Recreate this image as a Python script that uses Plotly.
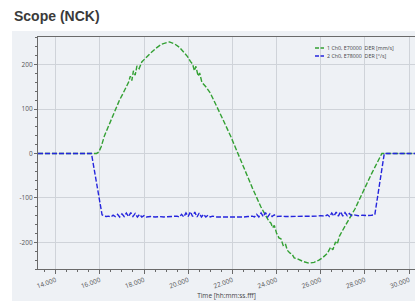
import plotly.graph_objects as go

# ---- data ----
green_t = [13.2, 15.85, 15.95, 16.06, 16.21, 16.44, 16.66, 16.89, 17.05, 17.19, 17.3, 17.38, 17.45, 17.52,
           17.6, 17.68, 17.78, 17.9, 18.02, 18.15, 18.3, 18.55, 18.8, 19.15, 19.4, 19.6, 19.8, 19.97, 20.1,
           20.2, 20.28, 20.35, 20.45, 20.52, 20.62, 20.8, 21.0, 21.18, 21.55, 21.93, 22.2, 22.53, 22.91,
           23.29, 23.5, 23.66, 23.75, 23.82, 23.9, 24.0, 24.11, 24.2, 24.3, 24.4, 24.49, 24.6, 24.7, 24.8,
           24.94, 25.2, 25.47, 25.7, 25.92, 26.1, 26.3, 26.45, 26.55, 26.67, 26.75, 26.85, 26.97, 27.15,
           27.35, 27.55, 27.72, 27.9, 28.1, 28.3, 28.47, 28.62, 28.77, 30.3]
green_v = [0, 0, 3, 15, 40, 68, 94, 120, 135, 150, 160, 174, 164, 186,
           176, 197, 191, 206, 212, 220, 226, 237, 246, 251, 246, 239, 228, 218, 207,
           201, 186, 196, 174, 181, 160, 150, 136, 118, 79, 38, 6, -37, -78,
           -120, -140, -153, -157, -167, -162, -179, -190, -192, -207, -203, -218, -224, -226, -235,
           -237, -243, -247, -245, -240, -234, -225, -211, -217, -199, -204, -186, -175, -158,
           -142, -125, -108, -88, -67, -46, -29, -12, 0, 0]

blue_t = [13.2, 15.62, 16.1, 16.2, 16.3, 16.4, 16.5, 16.6, 16.7, 16.8, 16.9, 17.0, 17.1, 17.2, 17.3, 17.4,
          17.5, 17.6, 17.7, 17.8, 17.9, 18.0, 18.1, 18.3, 18.5, 18.7, 18.9, 19.1, 19.3, 19.5, 19.6, 19.7,
          19.8, 19.9, 20.0, 20.1, 20.2, 20.3, 20.4, 20.5, 20.6, 20.7, 20.8, 20.9, 21.0, 21.1, 21.3, 21.5,
          21.7, 21.9, 22.1, 22.3, 22.5, 22.7, 22.9, 23.0, 23.1, 23.2, 23.3, 23.4, 23.5, 23.6, 23.7, 23.8,
          23.9, 24.0, 24.2, 24.4, 24.6, 24.8, 25.0, 25.2, 25.4, 25.6, 25.8, 26.0, 26.2, 26.3, 26.4, 26.5,
          26.6, 26.7, 26.8, 26.9, 27.0, 27.1, 27.2, 27.3, 27.4, 27.5, 27.7, 27.9, 28.1, 28.3, 28.45,
          28.88, 30.3]
blue_v = [0, 0, -138, -141, -142, -141, -143, -139, -142, -137, -143, -136, -142, -134, -142, -133,
          -142, -135, -143, -137, -143, -140, -143, -142, -143, -142, -143, -142, -142, -141, -143, -137,
          -143, -134, -142, -131, -142, -132, -143, -134, -143, -137, -143, -139, -143, -141, -143, -143,
          -144, -143, -144, -143, -143, -142, -141, -143, -137, -143, -134, -142, -133, -143, -136, -142,
          -138, -142, -141, -142, -142, -141, -142, -141, -142, -141, -141, -140, -141, -138, -142, -134,
          -141, -132, -141, -131, -141, -133, -140, -135, -140, -138, -140, -139, -140, -139, -138,
          0, 0]

x_ticks = [14, 16, 18, 20, 22, 24, 26, 28, 30]
y_ticks = [-200, -100, 0, 100, 200]
y_ticktext = ["-200", "-100", "0", "100", "200"]
name1 = "1 Ch0, E70000  DER [mm/s]"
name2 = "2 Ch0, E78000  DER [°/s]"

GREEN = "#33a033"
BLUE = "#2525dd"
BG = "#eef1f5"
W, H = 415, 301
ML, MR, MT, MB = 38, 0, 37, 32
pw, ph = W - ML - MR, H - MT - MB


def px2paper_x(px):
    return (px - ML) / pw


def px2paper_y(py):
    return 1 - (py - MT) / ph


fig = go.Figure()
fig.add_trace(go.Scatter(x=green_t, y=green_v, mode="lines", name=name1,
                         line=dict(color=GREEN, width=1.4, dash="5px,2px")))
fig.add_trace(go.Scatter(x=blue_t, y=blue_v, mode="lines", name=name2,
                         line=dict(color=BLUE, width=1.4, dash="5px,2px")))

axis_font = dict(family="Open Sans, Liberation Sans, sans-serif", size=6.5, color="#555")

fig.update_layout(
    width=W, height=H,
    margin=dict(l=ML, r=MR, t=MT, b=MB, pad=0),
    paper_bgcolor=BG, plot_bgcolor=BG,
    showlegend=False,
    xaxis=dict(range=[13.2, 30.27], tickvals=x_ticks, tickformat=".3f", tickangle=-20,
               showgrid=True, gridcolor="#cfd3d9", gridwidth=1,
               showline=True, linecolor="#6a6a6a", linewidth=1, mirror=True,
               ticks="outside", ticklen=4, tickcolor="#6a6a6a",
               minor=dict(dtick=0.5, ticks="outside", ticklen=2, tickcolor="#6a6a6a", showgrid=False),
               tickfont=axis_font, zeroline=False, automargin=False,
               title=dict(text="Time [hh:mm:ss.fff]", font=dict(family="Open Sans, sans-serif", size=6.5, color="#444"),
                          standoff=4)),
    yaxis=dict(range=[-260, 262], tickvals=y_ticks, ticktext=y_ticktext,
               showgrid=True, gridcolor="#cfd3d9", gridwidth=1,
               showline=True, linecolor="#6a6a6a", linewidth=1,
               ticks="outside", ticklen=3, tickcolor="#6a6a6a",
               minor=dict(dtick=20, ticks="outside", ticklen=2, tickcolor="#6a6a6a", showgrid=False),
               tickfont=axis_font, zeroline=False, automargin=False),
)

# white header strip above the grey chart panel, and left white margin
fig.add_shape(type="rect", xref="paper", yref="paper", layer="below",
              x0=px2paper_x(0), x1=px2paper_x(W), y0=px2paper_y(31), y1=px2paper_y(0),
              fillcolor="white", line=dict(width=0))
fig.add_shape(type="rect", xref="paper", yref="paper", layer="below",
              x0=px2paper_x(0), x1=px2paper_x(12), y0=px2paper_y(H), y1=px2paper_y(0),
              fillcolor="white", line=dict(width=0))

fig.add_annotation(text="<b>Scope (NCK)</b>", xref="paper", yref="paper",
                   x=px2paper_x(12), y=px2paper_y(16), xanchor="left", yanchor="middle",
                   showarrow=False, font=dict(family="Liberation Sans, Arial, sans-serif", size=14, color="#3a3a3a"))

# custom legend
for i, (nm, col) in enumerate([(name1, GREEN), (name2, BLUE)]):
    yy = 48 + 8 * i
    fig.add_shape(type="line", xref="paper", yref="paper",
                  x0=px2paper_x(315), x1=px2paper_x(324), y0=px2paper_y(yy), y1=px2paper_y(yy),
                  line=dict(color=col, width=1.4, dash="4px,1.5px"))
    fig.add_annotation(text=nm, xref="paper", yref="paper",
                       x=px2paper_x(325), y=px2paper_y(yy), xanchor="left", yanchor="middle",
                       showarrow=False, font=dict(family="Open Sans, sans-serif", size=5.3, color="#444"))

fig.write_html("out.html", config={"displayModeBar": False},
               post_script="document.body.style.margin='0px';document.body.style.overflow='hidden';")
